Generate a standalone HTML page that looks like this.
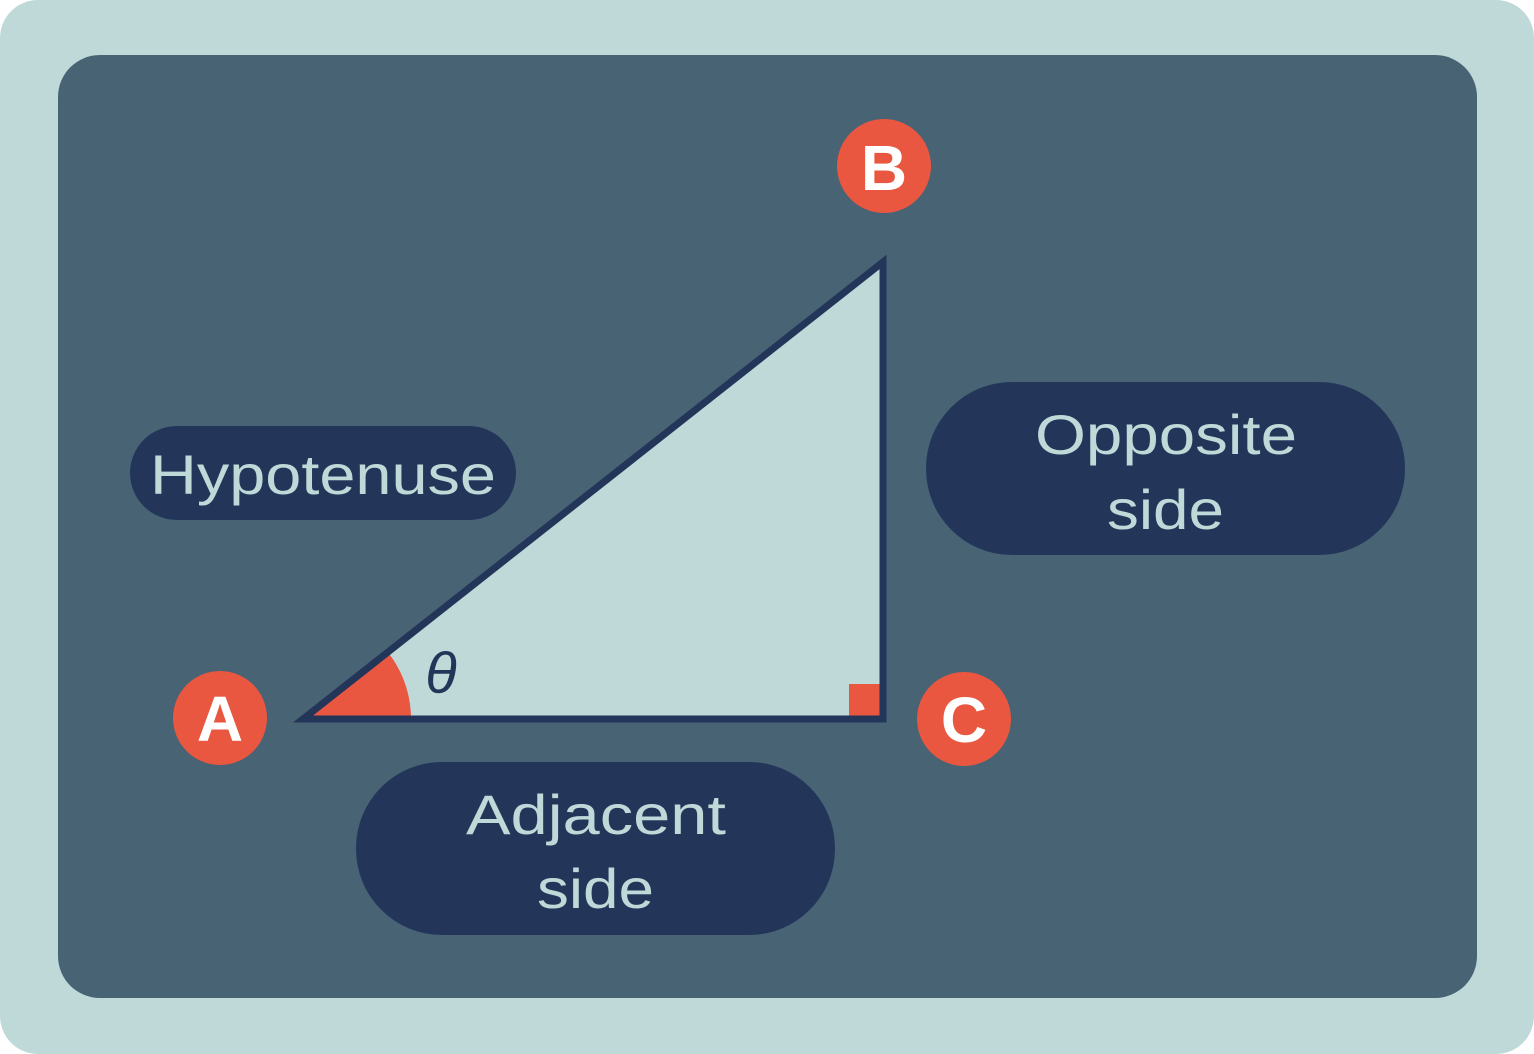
<!DOCTYPE html>
<html><head><meta charset="utf-8"><style>
html,body{margin:0;padding:0;background:#fff}
svg{display:block}
text{font-family:"Liberation Sans",sans-serif}
</style></head><body>
<svg width="1534" height="1054" viewBox="0 0 1534 1054" xmlns="http://www.w3.org/2000/svg">
<rect x="0" y="0" width="1534" height="1054" rx="38" fill="#bfd9d9"/>
<rect x="58" y="55" width="1419" height="943" rx="42" fill="#486373"/>
<clipPath id="tri"><polygon points="303,719 883,262 883,719"/></clipPath>
<polygon points="303,719 883,262 883,719" fill="#bfd9d9"/>
<g clip-path="url(#tri)">
<circle cx="303" cy="719" r="108" fill="#ea5740"/>
<rect x="849" y="684" width="34" height="34" fill="#ea5740"/>
</g>
<polygon points="303,719 883,262 883,719" fill="none" stroke="#23365a" stroke-width="7" stroke-linejoin="miter"/>
<text x="441" y="693" font-family="Liberation Serif,serif" font-style="italic" font-size="58" fill="#23365a" text-anchor="middle">θ</text>
<circle cx="884" cy="166" r="47" fill="#ea5740"/>
<text x="884" y="190" font-size="64" font-weight="bold" fill="#fff" text-anchor="middle">B</text>
<circle cx="220" cy="718" r="47" fill="#ea5740"/>
<text x="220" y="741" font-size="64" font-weight="bold" fill="#fff" text-anchor="middle">A</text>
<circle cx="964" cy="719" r="47" fill="#ea5740"/>
<text x="964" y="742" font-size="64" font-weight="bold" fill="#fff" text-anchor="middle">C</text>
<rect x="130" y="426" width="386" height="94" rx="47" fill="#23365a"/>
<text x="150" y="494" font-size="56" fill="#bfd9d9" textLength="346" lengthAdjust="spacingAndGlyphs">Hypotenuse</text>
<rect x="926" y="382" width="479" height="173" rx="86" fill="#23365a"/>
<text x="1035" y="454" font-size="56" fill="#bfd9d9" textLength="262" lengthAdjust="spacingAndGlyphs">Opposite</text>
<text x="1107" y="529" font-size="56" fill="#bfd9d9" textLength="117" lengthAdjust="spacingAndGlyphs">side</text>
<rect x="356" y="762" width="479" height="173" rx="86" fill="#23365a"/>
<text x="466" y="834" font-size="56" fill="#bfd9d9" textLength="260" lengthAdjust="spacingAndGlyphs">Adjacent</text>
<text x="537" y="908" font-size="56" fill="#bfd9d9" textLength="117" lengthAdjust="spacingAndGlyphs">side</text>
</svg>
</body></html>
